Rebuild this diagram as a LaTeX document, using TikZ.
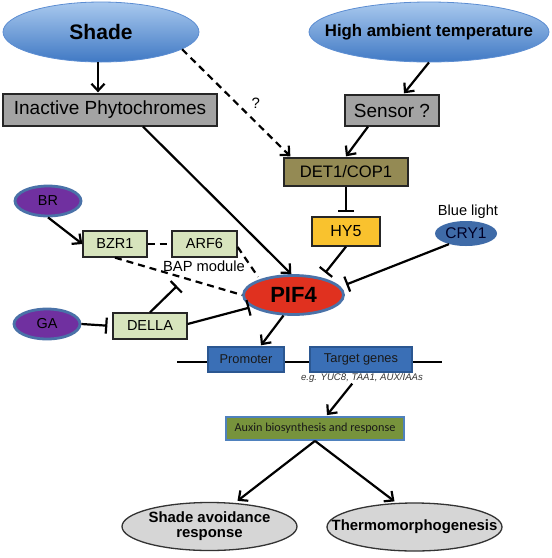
\documentclass[tikz,border=0pt]{standalone}
\usepackage{fontspec}
\setmainfont{Liberation Sans}
\newfontfamily\carlito{Carlito}
\usetikzlibrary{arrows.meta,shapes.geometric,calc}
\definecolor{ellblueT}{HTML}{A9C9EE}
\definecolor{ellblueB}{HTML}{4079C4}
\definecolor{ellblueD}{HTML}{5C8DD2}
\definecolor{boxgray}{HTML}{A3A3A3}
\definecolor{olive}{HTML}{948A54}
\definecolor{gold}{HTML}{F9C22E}
\definecolor{cryblue}{HTML}{3F6BA8}
\definecolor{pifred}{HTML}{E0311F}
\definecolor{rimblue}{HTML}{4A72A8}
\definecolor{purp}{HTML}{7030A0}
\definecolor{lgreen}{HTML}{D7E4BD}
\definecolor{genblue}{HTML}{3A6FB6}
\definecolor{genrim}{HTML}{2B5791}
\definecolor{auxgreen}{HTML}{77933C}
\definecolor{auxrim}{HTML}{4F81BD}
\definecolor{lgray}{HTML}{D6D6D6}
\begin{document}
\begin{tikzpicture}[x=1pt,y=-1pt,
  fs/.style={font=\fontsize{#1}{#1}\selectfont},
  fsb/.style={font=\fontsize{#1}{#1}\selectfont\bfseries},
  blueell/.style={ellipse,inner sep=0pt,top color=ellblueT,bottom color=ellblueB,draw=ellblueD,line width=0.8pt},
  graybox/.style={rectangle,inner sep=0pt,fill=boxgray,draw=black!85,line width=1.3pt,fs=19},
  greenbox/.style={rectangle,inner sep=0pt,fill=lgreen,draw=black!85,line width=1.3pt,fs=14.5},
  purpell/.style={ellipse,inner sep=0pt,fill=purp,draw=rimblue,line width=2.8pt,minimum width=66pt,minimum height=30pt},
  genbox/.style={rectangle,inner sep=0pt,fill=genblue,draw=genrim,line width=1.4pt,fs=12.8,text=black!90},
  grayell/.style={ellipse,inner sep=0pt,fill=lgray,draw=black!80,line width=1.3pt,minimum width=175pt,minimum height=48pt},
  arr/.style={line width=2.2pt,-{Straight Barb[length=7pt,width=13pt]}},
  inh/.style={line width=2.2pt,-{Bar[width=16pt,line width=2.2pt]}},
  dsh/.style={line width=2.2pt,dash pattern=on 7pt off 5pt}
]
\path[use as bounding box] (0,0) rectangle (552,558);

% gene line
\coordinate (dnaL) at (177,362);
\coordinate (dnaR) at (442,362);
\draw[line width=2.2pt] (dnaL) -- (dnaR);

% top ellipses
\node[blueell,minimum width=196pt,minimum height=60pt,label={[fsb=21]center:Shade}] (shade) at (101,32) {};
\node[blueell,minimum width=240pt,minimum height=60pt,label={[fsb=16.8]center:High ambient temperature}] (hot) at (429,32) {};

% boxes
\node[graybox,minimum width=214pt,minimum height=32pt] (inphy) at (110,110) {Inactive Phytochromes};
\node[graybox,minimum width=94pt,minimum height=31pt] (sensor) at (392,110.5) {Sensor ?};
\node[rectangle,inner sep=0pt,fill=olive,draw=black!85,line width=1.3pt,fs=16.6,minimum width=124pt,minimum height=28pt] (det) at (346,172) {DET1/COP1};
\node[rectangle,inner sep=0pt,fill=gold,draw=black!85,line width=1.3pt,fs=16,minimum width=68pt,minimum height=29pt] (hy5) at (346,231.5) {HY5};
\node[ellipse,inner sep=0pt,fill=cryblue,minimum width=62pt,minimum height=25pt,label={[fs=15.5,text=black!85!blue]center:CRY1}] (cry) at (466,233.5) {};
\node[fs=14.6] (blue) at (468,212) {Blue light};

% PIF4
\node[ellipse,inner sep=0pt,fill=pifred,draw=rimblue,line width=2.8pt,minimum width=100pt,minimum height=39pt,label={[fsb=22]center:PIF4}] (pif) at (293.5,295) {};

% hormones
\node[purpell,label={[fs=14.4]center:BR}] (br) at (48,201) {};
\node[purpell,label={[fs=14.4]center:GA}] (ga) at (47,324) {};
\node[greenbox,minimum width=64pt,minimum height=26pt] (bzr) at (115,244) {BZR1};
\node[greenbox,minimum width=65pt,minimum height=26pt] (arf) at (204.5,244) {ARF6};
\node[fs=14.7,inner sep=0pt] (bap) at (204,266) {BAP module};
\node[greenbox,minimum width=74pt,minimum height=26pt] (della) at (150,326) {DELLA};
\coordinate (bapin) at (177,286);

% genes
\node[genbox,minimum width=76pt,minimum height=25pt] (prom) at (246,359.5) {Promoter};
\node[genbox,minimum width=102pt,minimum height=25pt] (targ) at (361,359.5) {Target genes};
\node[fs=9.6,inner sep=0pt,text=black!80] (eg) at (362,378) {\itshape e.g. YUC8, TAA1, AUX/IAAs};
\node[rectangle,inner sep=0pt,fill=auxgreen,draw=auxrim,line width=1.8pt,minimum width=178pt,minimum height=23pt,font=\carlito\fontsize{12.2}{12.2}\selectfont,text=black!90] (aux) at (315,428.5) {Auxin biosynthesis and response};

% outputs
\node[grayell,label={[fsb=14.9,align=center]center:Shade avoidance\\response}] (sar) at (209.5,526.5) {};
\node[grayell,label={[fsb=14.9]center:Thermomorphogenesis}] (thermo) at (414.5,527) {};

% connectors
\draw[arr] ($(shade.south)+(-3,0)$) -- ($(inphy.north)+(-12,-1)$);
\draw[dsh,-{Straight Barb[length=7pt,width=13pt]}] (shade.-12) -- node[pos=0.5,right=11pt,fs=15] (q) {?} ($(det.north west)+(7,-1)$);
\draw[arr] (hot.south) -- ($(sensor.north)+(12,-1)$);
\draw[arr] ($(sensor.south)+(-24,0)$) -- ($(det.north)+(0,-1)$);
\draw[arr] ($(inphy.south)+(33,0)$) -- (pif.96);
\draw[inh,shorten >=4pt] (det.south) -- (hy5.north);
\draw[inh,shorten >=6pt] (hy5.south) -- (pif.32);
\draw[inh,shorten >=6pt] (cry.212) -- (pif.10);
\draw[arr] (br.south) -- (bzr.west);
\draw[dsh] (bzr.east) -- (arf.west);
\draw[dsh,shorten >=3pt] ($(arf.east)+(0,3)$) -- (pif.155);
\draw[dsh] (bzr.south) -- (pif.west);
\draw[inh,shorten >=5pt] (ga.east) -- (della.west);
\draw[inh] (della.north) -- (bapin);
\draw[inh,shorten >=2pt] ($(della.east)+(0,-2)$) -- (pif.196);
\draw[arr] (pif.244) -- ($(prom.north)+(15,-1)$);
\draw[arr,shorten <=14pt] (targ.south) -- ($(aux.north)+(12,-1)$);
\draw[arr] (aux.south) -- ($(sar.north)+(28,-1)$);
\draw[arr] (aux.south) -- ($(thermo.north)+(-20,-1)$);
\end{tikzpicture}
\end{document}
